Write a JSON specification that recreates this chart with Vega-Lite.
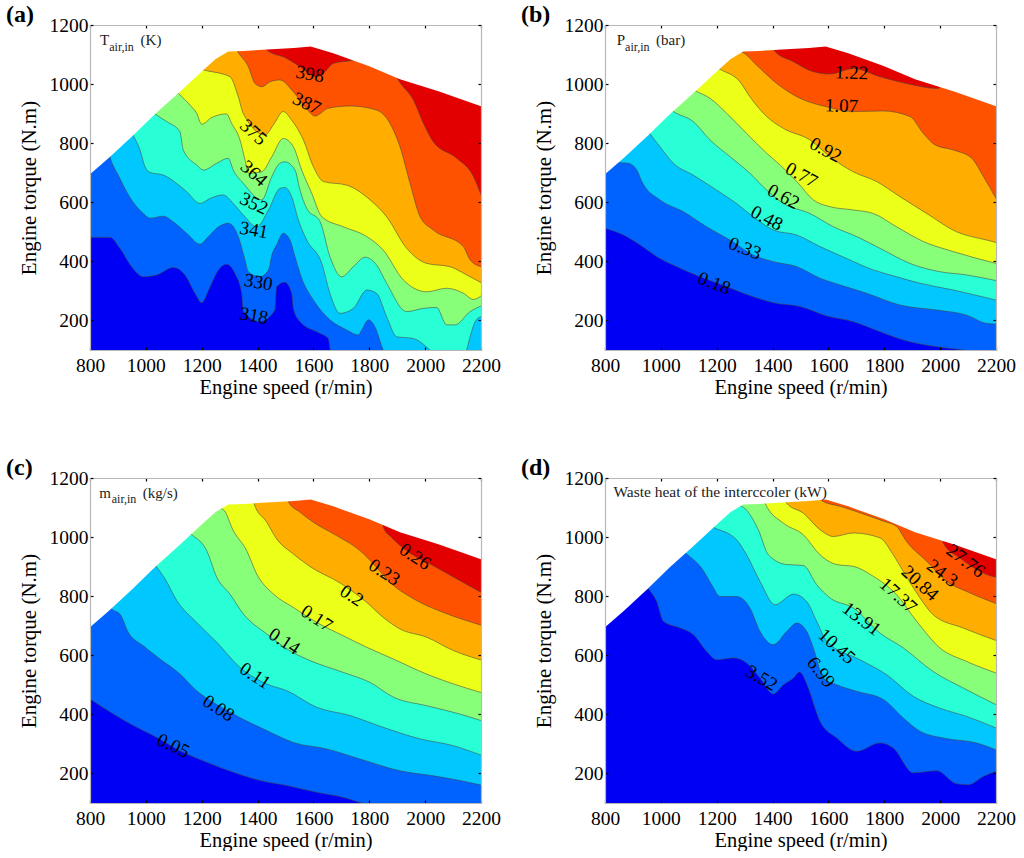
{"$schema":"https://vega.github.io/schema/vega-lite/v6.json","background":"white","padding":{"left":6,"top":3,"right":0,"bottom":0},"bounds":"flush","columns":2,"spacing":{"row":128,"column":124},
"config":{"view":{"stroke":null},"font":"Liberation Serif","title":{"font":"Liberation Serif","fontSize":24,"fontWeight":"bold","color":"black","anchor":"start","frame":"group","offset":1},
"axis":{"labelFont":"Liberation Serif","titleFont":"Liberation Serif","labelFontSize":19.5,"titleFontSize":20.5,"titleFontWeight":"normal","labelColor":"black","titleColor":"black","grid":false,"domainColor":"#b8b8b8","domainWidth":1.2,"tickColor":"black","tickSize":-3,"tickWidth":1.2,"labelOverlap":false,"labelFlush":false},
"text":{"font":"Liberation Serif"}},
"datasets":{
"env":[{"x":800,"y":695},{"x":870,"y":752},{"x":955,"y":827},{"x":1033,"y":899},{"x":1116,"y":969},{"x":1206,"y":1048},{"x":1250,"y":1085},{"x":1295,"y":1110},{"x":1350,"y":1112},{"x":1433,"y":1117},{"x":1530,"y":1122},{"x":1590,"y":1127},{"x":1671,"y":1104},{"x":1800,"y":1060},{"x":1910,"y":1016},{"x":2050,"y":975},{"x":2200,"y":925}],
"a":[{"l":9,"x":800,"y":1200},{"l":9,"x":2200,"y":1200},
{"l":8,"x":800,"y":1200},{"l":8,"x":1400,"y":1200},{"l":8,"x":1433,"y":1115},{"l":8,"x":1504,"y":1087},{"l":8,"x":1552,"y":1059},{"l":8,"x":1612,"y":1025},{"l":8,"x":1641,"y":1042},{"l":8,"x":1671,"y":1070},{"l":8,"x":1749,"y":1082},{"l":8,"x":1800,"y":1100},{"l":8,"x":1860,"y":1100},{"l":8,"x":1904,"y":1014},{"l":8,"x":1958,"y":946},{"l":8,"x":1994,"y":867},{"l":8,"x":2029,"y":805},{"l":8,"x":2113,"y":749},{"l":8,"x":2173,"y":687},{"l":8,"x":2200,"y":625},
{"l":7,"x":800,"y":1200},{"l":7,"x":1280,"y":1200},{"l":7,"x":1331,"y":1107},{"l":7,"x":1367,"y":1059},{"l":7,"x":1391,"y":1002},{"l":7,"x":1415,"y":991},{"l":7,"x":1445,"y":1008},{"l":7,"x":1480,"y":1014},{"l":7,"x":1528,"y":974},{"l":7,"x":1570,"y":923},{"l":7,"x":1606,"y":892},{"l":7,"x":1653,"y":918},{"l":7,"x":1731,"y":926},{"l":7,"x":1826,"y":912},{"l":7,"x":1874,"y":867},{"l":7,"x":1910,"y":788},{"l":7,"x":1946,"y":664},{"l":7,"x":1982,"y":551},{"l":7,"x":2029,"y":506},{"l":7,"x":2137,"y":450},{"l":7,"x":2161,"y":405},{"l":7,"x":2200,"y":382},
{"l":6,"x":800,"y":1200},{"l":6,"x":1206,"y":1048},{"l":6,"x":1301,"y":1025},{"l":6,"x":1331,"y":957},{"l":6,"x":1349,"y":900},{"l":6,"x":1427,"y":828},{"l":6,"x":1456,"y":861},{"l":6,"x":1492,"y":907},{"l":6,"x":1522,"y":878},{"l":6,"x":1564,"y":811},{"l":6,"x":1600,"y":720},{"l":6,"x":1636,"y":670},{"l":6,"x":1719,"y":658},{"l":6,"x":1803,"y":608},{"l":6,"x":1862,"y":551},{"l":6,"x":1934,"y":444},{"l":6,"x":2006,"y":393},{"l":6,"x":2089,"y":382},{"l":6,"x":2149,"y":354},{"l":6,"x":2200,"y":328},
{"l":5,"x":800,"y":1200},{"l":5,"x":1116,"y":969},{"l":5,"x":1158,"y":929},{"l":5,"x":1182,"y":901},{"l":5,"x":1200,"y":864},{"l":5,"x":1236,"y":887},{"l":5,"x":1289,"y":899},{"l":5,"x":1307,"y":867},{"l":5,"x":1337,"y":811},{"l":5,"x":1355,"y":743},{"l":5,"x":1367,"y":698},{"l":5,"x":1415,"y":703},{"l":5,"x":1451,"y":754},{"l":5,"x":1492,"y":816},{"l":5,"x":1528,"y":788},{"l":5,"x":1558,"y":709},{"l":5,"x":1594,"y":630},{"l":5,"x":1630,"y":551},{"l":5,"x":1707,"y":517},{"l":5,"x":1791,"y":484},{"l":5,"x":1850,"y":438},{"l":5,"x":1922,"y":337},{"l":5,"x":2006,"y":297},{"l":5,"x":2077,"y":309},{"l":5,"x":2137,"y":292},{"l":5,"x":2173,"y":271},{"l":5,"x":2200,"y":283},
{"l":4,"x":800,"y":1200},{"l":4,"x":1033,"y":899},{"l":4,"x":1075,"y":873},{"l":4,"x":1122,"y":839},{"l":4,"x":1134,"y":777},{"l":4,"x":1182,"y":726},{"l":4,"x":1206,"y":709},{"l":4,"x":1254,"y":732},{"l":4,"x":1295,"y":749},{"l":4,"x":1313,"y":709},{"l":4,"x":1349,"y":664},{"l":4,"x":1415,"y":608},{"l":4,"x":1451,"y":687},{"l":4,"x":1480,"y":732},{"l":4,"x":1498,"y":737},{"l":4,"x":1534,"y":709},{"l":4,"x":1552,"y":641},{"l":4,"x":1576,"y":579},{"l":4,"x":1624,"y":534},{"l":4,"x":1659,"y":416},{"l":4,"x":1701,"y":348},{"l":4,"x":1743,"y":382},{"l":4,"x":1785,"y":414},{"l":4,"x":1826,"y":388},{"l":4,"x":1862,"y":326},{"l":4,"x":1934,"y":230},{"l":4,"x":1994,"y":241},{"l":4,"x":2041,"y":244},{"l":4,"x":2077,"y":185},{"l":4,"x":2107,"y":185},{"l":4,"x":2161,"y":230},{"l":4,"x":2200,"y":249},
{"l":3,"x":800,"y":1200},{"l":3,"x":955,"y":827},{"l":3,"x":979,"y":777},{"l":3,"x":997,"y":720},{"l":3,"x":1015,"y":701},{"l":3,"x":1063,"y":692},{"l":3,"x":1110,"y":664},{"l":3,"x":1146,"y":636},{"l":3,"x":1194,"y":596},{"l":3,"x":1230,"y":613},{"l":3,"x":1277,"y":625},{"l":3,"x":1313,"y":596},{"l":3,"x":1349,"y":557},{"l":3,"x":1397,"y":517},{"l":3,"x":1439,"y":574},{"l":3,"x":1480,"y":647},{"l":3,"x":1498,"y":650},{"l":3,"x":1522,"y":619},{"l":3,"x":1546,"y":540},{"l":3,"x":1576,"y":472},{"l":3,"x":1630,"y":393},{"l":3,"x":1659,"y":292},{"l":3,"x":1695,"y":224},{"l":3,"x":1743,"y":241},{"l":3,"x":1791,"y":303},{"l":3,"x":1826,"y":292},{"l":3,"x":1862,"y":213},{"l":3,"x":1898,"y":145},{"l":3,"x":1957,"y":139},{"l":3,"x":2017,"y":100},{"l":3,"x":2041,"y":78},{"l":3,"x":2143,"y":90},{"l":3,"x":2161,"y":145},{"l":3,"x":2179,"y":196},{"l":3,"x":2200,"y":213},
{"l":2,"x":800,"y":1200},{"l":2,"x":872,"y":752},{"l":2,"x":901,"y":692},{"l":2,"x":949,"y":608},{"l":2,"x":991,"y":562},{"l":2,"x":1015,"y":546},{"l":2,"x":1063,"y":553},{"l":2,"x":1098,"y":534},{"l":2,"x":1146,"y":495},{"l":2,"x":1194,"y":458},{"l":2,"x":1224,"y":484},{"l":2,"x":1260,"y":517},{"l":2,"x":1295,"y":529},{"l":2,"x":1331,"y":484},{"l":2,"x":1355,"y":405},{"l":2,"x":1367,"y":365},{"l":2,"x":1409,"y":348},{"l":2,"x":1439,"y":371},{"l":2,"x":1451,"y":421},{"l":2,"x":1468,"y":455},{"l":2,"x":1492,"y":495},{"l":2,"x":1516,"y":472},{"l":2,"x":1534,"y":416},{"l":2,"x":1558,"y":343},{"l":2,"x":1600,"y":269},{"l":2,"x":1659,"y":202},{"l":2,"x":1719,"y":168},{"l":2,"x":1761,"y":151},{"l":2,"x":1773,"y":168},{"l":2,"x":1797,"y":202},{"l":2,"x":1820,"y":179},{"l":2,"x":1850,"y":100},{"l":2,"x":1862,"y":78},{"l":2,"x":2200,"y":70},
{"l":1,"x":800,"y":481},{"l":1,"x":872,"y":481},{"l":1,"x":907,"y":444},{"l":1,"x":949,"y":382},{"l":1,"x":991,"y":348},{"l":1,"x":1039,"y":354},{"l":1,"x":1098,"y":379},{"l":1,"x":1140,"y":354},{"l":1,"x":1176,"y":292},{"l":1,"x":1200,"y":260},{"l":1,"x":1230,"y":314},{"l":1,"x":1260,"y":371},{"l":1,"x":1289,"y":390},{"l":1,"x":1319,"y":359},{"l":1,"x":1343,"y":292},{"l":1,"x":1349,"y":230},{"l":1,"x":1409,"y":196},{"l":1,"x":1462,"y":235},{"l":1,"x":1468,"y":314},{"l":1,"x":1498,"y":329},{"l":1,"x":1522,"y":292},{"l":1,"x":1528,"y":241},{"l":1,"x":1552,"y":196},{"l":1,"x":1624,"y":156},{"l":1,"x":1653,"y":139},{"l":1,"x":1665,"y":80},{"l":1,"x":2200,"y":70}],
"b":[{"l":9,"x":800,"y":1200},{"l":9,"x":2200,"y":1200},
{"l":8,"x":800,"y":1200},{"l":8,"x":1380,"y":1200},{"l":8,"x":1409,"y":1110},{"l":8,"x":1474,"y":1076},{"l":8,"x":1546,"y":1042},{"l":8,"x":1606,"y":1034},{"l":8,"x":1689,"y":1053},{"l":8,"x":1785,"y":1025},{"l":8,"x":1880,"y":1002},{"l":8,"x":1990,"y":985},{"l":8,"x":2010,"y":1000},{"l":8,"x":2050,"y":1200},{"l":8,"x":2200,"y":1200},
{"l":7,"x":800,"y":1200},{"l":7,"x":1293,"y":1107},{"l":7,"x":1343,"y":1064},{"l":7,"x":1415,"y":1002},{"l":7,"x":1498,"y":952},{"l":7,"x":1594,"y":923},{"l":7,"x":1689,"y":907},{"l":7,"x":1797,"y":909},{"l":7,"x":1892,"y":890},{"l":7,"x":1940,"y":833},{"l":7,"x":1982,"y":794},{"l":7,"x":2047,"y":777},{"l":7,"x":2113,"y":749},{"l":7,"x":2155,"y":687},{"l":7,"x":2200,"y":613},
{"l":6,"x":800,"y":1200},{"l":6,"x":1212,"y":1050},{"l":6,"x":1283,"y":1008},{"l":6,"x":1319,"y":957},{"l":6,"x":1379,"y":890},{"l":6,"x":1439,"y":850},{"l":6,"x":1534,"y":811},{"l":6,"x":1606,"y":754},{"l":6,"x":1689,"y":703},{"l":6,"x":1773,"y":670},{"l":6,"x":1856,"y":619},{"l":6,"x":1952,"y":562},{"l":6,"x":2059,"y":500},{"l":6,"x":2167,"y":472},{"l":6,"x":2200,"y":464},
{"l":5,"x":800,"y":1200},{"l":5,"x":1122,"y":978},{"l":5,"x":1176,"y":952},{"l":5,"x":1236,"y":901},{"l":5,"x":1307,"y":833},{"l":5,"x":1379,"y":766},{"l":5,"x":1427,"y":726},{"l":5,"x":1487,"y":670},{"l":5,"x":1546,"y":608},{"l":5,"x":1606,"y":585},{"l":5,"x":1689,"y":574},{"l":5,"x":1761,"y":562},{"l":5,"x":1844,"y":517},{"l":5,"x":1940,"y":467},{"l":5,"x":2047,"y":433},{"l":5,"x":2200,"y":393},
{"l":4,"x":800,"y":1200},{"l":4,"x":1045,"y":907},{"l":4,"x":1116,"y":873},{"l":4,"x":1176,"y":811},{"l":4,"x":1248,"y":754},{"l":4,"x":1319,"y":698},{"l":4,"x":1379,"y":641},{"l":4,"x":1439,"y":596},{"l":4,"x":1534,"y":562},{"l":4,"x":1618,"y":517},{"l":4,"x":1701,"y":484},{"l":4,"x":1797,"y":438},{"l":4,"x":1892,"y":393},{"l":4,"x":1999,"y":365},{"l":4,"x":2095,"y":354},{"l":4,"x":2200,"y":335},
{"l":3,"x":800,"y":1200},{"l":3,"x":961,"y":833},{"l":3,"x":997,"y":788},{"l":3,"x":1045,"y":732},{"l":3,"x":1116,"y":692},{"l":3,"x":1200,"y":641},{"l":3,"x":1271,"y":596},{"l":3,"x":1331,"y":551},{"l":3,"x":1403,"y":506},{"l":3,"x":1487,"y":489},{"l":3,"x":1570,"y":450},{"l":3,"x":1665,"y":410},{"l":3,"x":1761,"y":371},{"l":3,"x":1844,"y":348},{"l":3,"x":1928,"y":326},{"l":3,"x":2047,"y":303},{"l":3,"x":2200,"y":269},
{"l":2,"x":800,"y":800},{"l":2,"x":848,"y":735},{"l":2,"x":884,"y":732},{"l":2,"x":914,"y":709},{"l":2,"x":932,"y":670},{"l":2,"x":997,"y":608},{"l":2,"x":1081,"y":568},{"l":2,"x":1164,"y":517},{"l":2,"x":1248,"y":472},{"l":2,"x":1331,"y":421},{"l":2,"x":1403,"y":399},{"l":2,"x":1487,"y":382},{"l":2,"x":1570,"y":343},{"l":2,"x":1642,"y":320},{"l":2,"x":1737,"y":292},{"l":2,"x":1856,"y":252},{"l":2,"x":1988,"y":235},{"l":2,"x":2095,"y":218},{"l":2,"x":2167,"y":190},{"l":2,"x":2200,"y":188},
{"l":1,"x":800,"y":512},{"l":1,"x":866,"y":489},{"l":1,"x":926,"y":455},{"l":1,"x":985,"y":416},{"l":1,"x":1057,"y":382},{"l":1,"x":1140,"y":348},{"l":1,"x":1236,"y":314},{"l":1,"x":1331,"y":280},{"l":1,"x":1403,"y":260},{"l":1,"x":1498,"y":247},{"l":1,"x":1594,"y":215},{"l":1,"x":1689,"y":196},{"l":1,"x":1785,"y":162},{"l":1,"x":1868,"y":134},{"l":1,"x":1988,"y":111},{"l":1,"x":2083,"y":100},{"l":1,"x":2200,"y":80}],
"c":[{"l":9,"x":800,"y":1200},{"l":9,"x":2200,"y":1200},
{"l":8,"x":800,"y":1200},{"l":8,"x":1840,"y":1200},{"l":8,"x":1850,"y":1033},{"l":8,"x":1882,"y":997},{"l":8,"x":1934,"y":954},{"l":8,"x":2029,"y":903},{"l":8,"x":2125,"y":852},{"l":8,"x":2200,"y":813},
{"l":7,"x":800,"y":1200},{"l":7,"x":1490,"y":1200},{"l":7,"x":1510,"y":1120},{"l":7,"x":1552,"y":1084},{"l":7,"x":1600,"y":1050},{"l":7,"x":1683,"y":1005},{"l":7,"x":1767,"y":954},{"l":7,"x":1815,"y":909},{"l":7,"x":1874,"y":847},{"l":7,"x":1970,"y":785},{"l":7,"x":2065,"y":745},{"l":7,"x":2200,"y":702},
{"l":6,"x":800,"y":1200},{"l":6,"x":1370,"y":1200},{"l":6,"x":1387,"y":1114},{"l":6,"x":1433,"y":1050},{"l":6,"x":1469,"y":993},{"l":6,"x":1528,"y":943},{"l":6,"x":1612,"y":886},{"l":6,"x":1671,"y":858},{"l":6,"x":1791,"y":779},{"l":6,"x":1850,"y":728},{"l":6,"x":1910,"y":689},{"l":6,"x":2006,"y":661},{"l":6,"x":2101,"y":616},{"l":6,"x":2200,"y":584},
{"l":5,"x":800,"y":1200},{"l":5,"x":1277,"y":1093},{"l":5,"x":1313,"y":1022},{"l":5,"x":1361,"y":954},{"l":5,"x":1397,"y":875},{"l":5,"x":1457,"y":807},{"l":5,"x":1528,"y":762},{"l":5,"x":1612,"y":711},{"l":5,"x":1707,"y":666},{"l":5,"x":1791,"y":627},{"l":5,"x":1887,"y":587},{"l":5,"x":2006,"y":536},{"l":5,"x":2101,"y":503},{"l":5,"x":2200,"y":474},
{"l":4,"x":800,"y":1200},{"l":4,"x":1160,"y":1012},{"l":4,"x":1218,"y":954},{"l":4,"x":1254,"y":864},{"l":4,"x":1301,"y":807},{"l":4,"x":1349,"y":740},{"l":4,"x":1433,"y":672},{"l":4,"x":1516,"y":615},{"l":4,"x":1588,"y":582},{"l":4,"x":1707,"y":542},{"l":4,"x":1803,"y":508},{"l":4,"x":1887,"y":458},{"l":4,"x":2006,"y":429},{"l":4,"x":2125,"y":401},{"l":4,"x":2200,"y":379},
{"l":3,"x":800,"y":1200},{"l":3,"x":1036,"y":903},{"l":3,"x":1069,"y":858},{"l":3,"x":1111,"y":785},{"l":3,"x":1182,"y":711},{"l":3,"x":1254,"y":644},{"l":3,"x":1337,"y":559},{"l":3,"x":1433,"y":503},{"l":3,"x":1505,"y":480},{"l":3,"x":1612,"y":424},{"l":3,"x":1731,"y":396},{"l":3,"x":1850,"y":356},{"l":3,"x":1982,"y":317},{"l":3,"x":2101,"y":294},{"l":3,"x":2200,"y":262},
{"l":2,"x":800,"y":900},{"l":2,"x":878,"y":756},{"l":2,"x":907,"y":740},{"l":2,"x":937,"y":678},{"l":2,"x":991,"y":632},{"l":2,"x":1051,"y":587},{"l":2,"x":1122,"y":537},{"l":2,"x":1182,"y":480},{"l":2,"x":1254,"y":433},{"l":2,"x":1313,"y":401},{"l":2,"x":1433,"y":345},{"l":2,"x":1528,"y":305},{"l":2,"x":1647,"y":283},{"l":2,"x":1767,"y":249},{"l":2,"x":1910,"y":209},{"l":2,"x":2029,"y":192},{"l":2,"x":2125,"y":176},{"l":2,"x":2200,"y":161},
{"l":1,"x":800,"y":452},{"l":1,"x":884,"y":401},{"l":1,"x":955,"y":362},{"l":1,"x":1039,"y":322},{"l":1,"x":1122,"y":277},{"l":1,"x":1218,"y":238},{"l":1,"x":1313,"y":204},{"l":1,"x":1409,"y":176},{"l":1,"x":1505,"y":159},{"l":1,"x":1612,"y":136},{"l":1,"x":1707,"y":119},{"l":1,"x":1791,"y":97},{"l":1,"x":2200,"y":75}],
"d":[{"l":9,"x":800,"y":1200},{"l":9,"x":2200,"y":1200},
{"l":8,"x":800,"y":1200},{"l":8,"x":1990,"y":1200},{"l":8,"x":2011,"y":980},{"l":8,"x":2071,"y":929},{"l":8,"x":2167,"y":873},{"l":8,"x":2200,"y":864},
{"l":7,"x":800,"y":1200},{"l":7,"x":1560,"y":1200},{"l":7,"x":1576,"y":1123},{"l":7,"x":1642,"y":1104},{"l":7,"x":1689,"y":1090},{"l":7,"x":1737,"y":1074},{"l":7,"x":1800,"y":1053},{"l":7,"x":1844,"y":1036},{"l":7,"x":1880,"y":985},{"l":7,"x":1952,"y":918},{"l":7,"x":2023,"y":850},{"l":7,"x":2095,"y":816},{"l":7,"x":2200,"y":775},
{"l":6,"x":800,"y":1200},{"l":6,"x":1435,"y":1200},{"l":6,"x":1450,"y":1115},{"l":6,"x":1510,"y":1081},{"l":6,"x":1570,"y":1025},{"l":6,"x":1618,"y":1002},{"l":6,"x":1689,"y":1014},{"l":6,"x":1785,"y":997},{"l":6,"x":1832,"y":940},{"l":6,"x":1868,"y":884},{"l":6,"x":1928,"y":794},{"l":6,"x":1975,"y":737},{"l":6,"x":2083,"y":692},{"l":6,"x":2200,"y":650},
{"l":5,"x":800,"y":1200},{"l":5,"x":1360,"y":1200},{"l":5,"x":1373,"y":1115},{"l":5,"x":1439,"y":1047},{"l":5,"x":1510,"y":1008},{"l":5,"x":1570,"y":940},{"l":5,"x":1630,"y":907},{"l":5,"x":1689,"y":901},{"l":5,"x":1761,"y":867},{"l":5,"x":1844,"y":805},{"l":5,"x":1916,"y":715},{"l":5,"x":1999,"y":625},{"l":5,"x":2095,"y":579},{"l":5,"x":2200,"y":540},
{"l":4,"x":800,"y":1200},{"l":4,"x":1289,"y":1104},{"l":4,"x":1349,"y":1025},{"l":4,"x":1385,"y":940},{"l":4,"x":1451,"y":907},{"l":4,"x":1510,"y":904},{"l":4,"x":1558,"y":839},{"l":4,"x":1606,"y":794},{"l":4,"x":1689,"y":760},{"l":4,"x":1785,"y":675},{"l":4,"x":1868,"y":625},{"l":4,"x":1975,"y":545},{"l":4,"x":2083,"y":489},{"l":4,"x":2200,"y":433},
{"l":3,"x":800,"y":1200},{"l":3,"x":1188,"y":1033},{"l":3,"x":1271,"y":991},{"l":3,"x":1307,"y":940},{"l":3,"x":1355,"y":850},{"l":3,"x":1409,"y":771},{"l":3,"x":1475,"y":807},{"l":3,"x":1522,"y":782},{"l":3,"x":1558,"y":715},{"l":3,"x":1594,"y":647},{"l":3,"x":1713,"y":585},{"l":3,"x":1809,"y":534},{"l":3,"x":1904,"y":461},{"l":3,"x":1999,"y":421},{"l":3,"x":2095,"y":393},{"l":3,"x":2200,"y":354},
{"l":2,"x":800,"y":1200},{"l":2,"x":1086,"y":948},{"l":2,"x":1146,"y":895},{"l":2,"x":1182,"y":839},{"l":2,"x":1212,"y":799},{"l":2,"x":1271,"y":799},{"l":2,"x":1319,"y":760},{"l":2,"x":1355,"y":681},{"l":2,"x":1403,"y":636},{"l":2,"x":1451,"y":681},{"l":2,"x":1487,"y":709},{"l":2,"x":1522,"y":681},{"l":2,"x":1546,"y":625},{"l":2,"x":1582,"y":523},{"l":2,"x":1630,"y":500},{"l":2,"x":1701,"y":478},{"l":2,"x":1797,"y":450},{"l":2,"x":1868,"y":388},{"l":2,"x":1928,"y":343},{"l":2,"x":2023,"y":318},{"l":2,"x":2131,"y":303},{"l":2,"x":2200,"y":280},
{"l":1,"x":800,"y":1200},{"l":1,"x":955,"y":827},{"l":1,"x":985,"y":782},{"l":1,"x":1009,"y":715},{"l":1,"x":1069,"y":692},{"l":1,"x":1116,"y":670},{"l":1,"x":1164,"y":613},{"l":1,"x":1200,"y":585},{"l":1,"x":1260,"y":591},{"l":1,"x":1307,"y":574},{"l":1,"x":1355,"y":523},{"l":1,"x":1403,"y":469},{"l":1,"x":1439,"y":500},{"l":1,"x":1475,"y":523},{"l":1,"x":1496,"y":543},{"l":1,"x":1528,"y":489},{"l":1,"x":1552,"y":421},{"l":1,"x":1570,"y":376},{"l":1,"x":1630,"y":320},{"l":1,"x":1701,"y":275},{"l":1,"x":1785,"y":303},{"l":1,"x":1832,"y":286},{"l":1,"x":1904,"y":202},{"l":1,"x":1988,"y":209},{"l":1,"x":2059,"y":165},{"l":1,"x":2101,"y":162},{"l":1,"x":2155,"y":190},{"l":1,"x":2200,"y":207}]
},
"concat":[
{"data":{"name":"a"},"title":{"text":"(a)","dx":-84,"dy":13},"width":391,"height":325,"resolve":{"axis":{"x":"independent","y":"independent"}},
"encoding":{"x":{"field":"x","type":"quantitative","scale":{"domain":[800,2200],"nice":false},"axis":null},"y":{"field":"y","type":"quantitative","scale":{"domain":[100,1200],"nice":false,"zero":false},"axis":null}},
"layer":[
{"mark":{"type":"area","interpolate":"monotone","clip":true},"encoding":{"x":{"field":"x","type":"quantitative","scale":{"domain":[800,2200],"nice":false},"axis":{"values":[800,1000,1200,1400,1600,1800,2000,2200],"format":"d","zindex":1,"title":"Engine speed (r/min)","labelPadding":9,"titlePadding":3}},"y":{"field":"y","type":"quantitative","scale":{"domain":[100,1200],"nice":false,"zero":false},"axis":{"values":[200,400,600,800,1000,1200],"format":"d","zindex":1,"title":"Engine torque (N.m)","labelPadding":5,"titlePadding":10,"titleFontSize":21}},"y2":{"datum":100},"color":{"field":"l","type":"nominal","legend":null,"scale":{"domain":[9,8,7,6,5,4,3,2,1],"range":["#e20000","#ff5200","#ffae00","#ecff18","#88ff78","#28ffd6","#00c8ff","#0062ff","#0000f5"]}}}},
{"transform":[{"filter":"datum.l<9"}],"mark":{"type":"line","interpolate":"monotone","clip":true,"stroke":"#444444","strokeWidth":0.7,"opacity":0.8},"encoding":{"detail":{"field":"l"}}},
{"data":{"name":"env"},"mark":{"type":"area","color":"white","clip":true},"encoding":{"x":{"field":"x","type":"quantitative","scale":{"domain":[800,2200],"nice":false},"axis":{"orient":"top","values":[800,1000,1200,1400,1600,1800,2000,2200],"zindex":1,"labels":false,"title":null}},"y":{"field":"y","type":"quantitative","scale":{"domain":[100,1200],"nice":false,"zero":false},"axis":{"orient":"right","values":[200,400,600,800,1000,1200],"zindex":1,"labels":false,"title":null}},"y2":{"datum":1200}}},
{"data":{"values":[{"x":1588,"y":1034,"t":"398"},{"x":1387,"y":506,"t":"341"},{"x":1403,"y":329,"t":"330"},{"x":1387,"y":216,"t":"318"}]},"mark":{"type":"text","fontSize":19,"angle":10,"color":"black"},"encoding":{"text":{"field":"t"}}},
{"data":{"values":[{"x":1576,"y":935,"t":"387"},{"x":1387,"y":596,"t":"352"}]},"mark":{"type":"text","fontSize":19,"angle":25,"color":"black"},"encoding":{"text":{"field":"t"}}},
{"data":{"values":[{"x":1385,"y":837,"t":"375"},{"x":1387,"y":698,"t":"364"}]},"mark":{"type":"text","fontSize":19,"angle":42,"color":"black"},"encoding":{"text":{"field":"t"}}},
{"data":{"values":[{"x":836,"y":1134,"t":"T"},{"x":981,"y":1134,"t":"(K)"}]},"mark":{"type":"text","fontSize":15,"align":"left","baseline":"alphabetic","color":"#222222"},"encoding":{"text":{"field":"t"}}},
{"data":{"values":[{"x":869,"y":1113,"t":"air,in"}]},"mark":{"type":"text","fontSize":12,"align":"left","baseline":"alphabetic","color":"#222222"},"encoding":{"text":{"field":"t"}}}
]},
{"data":{"name":"b"},"title":{"text":"(b)","dx":-84,"dy":13},"width":391,"height":325,"resolve":{"axis":{"x":"independent","y":"independent"}},
"encoding":{"x":{"field":"x","type":"quantitative","scale":{"domain":[800,2200],"nice":false},"axis":null},"y":{"field":"y","type":"quantitative","scale":{"domain":[100,1200],"nice":false,"zero":false},"axis":null}},
"layer":[
{"mark":{"type":"area","interpolate":"monotone","clip":true},"encoding":{"x":{"field":"x","type":"quantitative","scale":{"domain":[800,2200],"nice":false},"axis":{"values":[800,1000,1200,1400,1600,1800,2000,2200],"format":"d","zindex":1,"title":"Engine speed (r/min)","labelPadding":9,"titlePadding":3}},"y":{"field":"y","type":"quantitative","scale":{"domain":[100,1200],"nice":false,"zero":false},"axis":{"values":[200,400,600,800,1000,1200],"format":"d","zindex":1,"title":"Engine torque (N.m)","labelPadding":5,"titlePadding":10,"titleFontSize":21}},"y2":{"datum":100},"color":{"field":"l","type":"nominal","legend":null,"scale":{"domain":[9,8,7,6,5,4,3,2,1],"range":["#e20000","#ff5200","#ffae00","#ecff18","#88ff78","#28ffd6","#00c8ff","#0062ff","#0000f5"]}}}},
{"transform":[{"filter":"datum.l<9"}],"mark":{"type":"line","interpolate":"monotone","clip":true,"stroke":"#444444","strokeWidth":0.7,"opacity":0.8},"encoding":{"detail":{"field":"l"}}},
{"data":{"name":"env"},"mark":{"type":"area","color":"white","clip":true},"encoding":{"x":{"field":"x","type":"quantitative","scale":{"domain":[800,2200],"nice":false},"axis":{"orient":"top","values":[800,1000,1200,1400,1600,1800,2000,2200],"zindex":1,"labels":false,"title":null}},"y":{"field":"y","type":"quantitative","scale":{"domain":[100,1200],"nice":false,"zero":false},"axis":{"orient":"right","values":[200,400,600,800,1000,1200],"zindex":1,"labels":false,"title":null}},"y2":{"datum":1200}}},
{"data":{"values":[{"x":1683,"y":1038,"t":"1.22"},{"x":1647,"y":926,"t":"1.07"}]},"mark":{"type":"text","fontSize":19,"angle":2,"color":"black"},"encoding":{"text":{"field":"t"}}},
{"data":{"values":[{"x":1590,"y":777,"t":"0.92"},{"x":1504,"y":692,"t":"0.77"},{"x":1439,"y":619,"t":"0.62"},{"x":1379,"y":546,"t":"0.48"}]},"mark":{"type":"text","fontSize":19,"angle":28,"color":"black"},"encoding":{"text":{"field":"t"}}},
{"data":{"values":[{"x":1301,"y":444,"t":"0.33"},{"x":1191,"y":326,"t":"0.18"}]},"mark":{"type":"text","fontSize":19,"angle":21,"color":"black"},"encoding":{"text":{"field":"t"}}},
{"data":{"values":[{"x":842,"y":1134,"t":"P"},{"x":983,"y":1134,"t":"(bar)"}]},"mark":{"type":"text","fontSize":15,"align":"left","baseline":"alphabetic","color":"#222222"},"encoding":{"text":{"field":"t"}}},
{"data":{"values":[{"x":872,"y":1113,"t":"air,in"}]},"mark":{"type":"text","fontSize":12,"align":"left","baseline":"alphabetic","color":"#222222"},"encoding":{"text":{"field":"t"}}}
]},
{"data":{"name":"c"},"title":{"text":"(c)","dx":-84,"dy":13},"width":391,"height":325,"resolve":{"axis":{"x":"independent","y":"independent"}},
"encoding":{"x":{"field":"x","type":"quantitative","scale":{"domain":[800,2200],"nice":false},"axis":null},"y":{"field":"y","type":"quantitative","scale":{"domain":[100,1200],"nice":false,"zero":false},"axis":null}},
"layer":[
{"mark":{"type":"area","interpolate":"monotone","clip":true},"encoding":{"x":{"field":"x","type":"quantitative","scale":{"domain":[800,2200],"nice":false},"axis":{"values":[800,1000,1200,1400,1600,1800,2000,2200],"format":"d","zindex":1,"title":"Engine speed (r/min)","labelPadding":9,"titlePadding":3}},"y":{"field":"y","type":"quantitative","scale":{"domain":[100,1200],"nice":false,"zero":false},"axis":{"values":[200,400,600,800,1000,1200],"format":"d","zindex":1,"title":"Engine torque (N.m)","labelPadding":5,"titlePadding":10,"titleFontSize":21}},"y2":{"datum":100},"color":{"field":"l","type":"nominal","legend":null,"scale":{"domain":[9,8,7,6,5,4,3,2,1],"range":["#e20000","#ff5200","#ffae00","#ecff18","#88ff78","#28ffd6","#00c8ff","#0062ff","#0000f5"]}}}},
{"transform":[{"filter":"datum.l<9"}],"mark":{"type":"line","interpolate":"monotone","clip":true,"stroke":"#444444","strokeWidth":0.7,"opacity":0.8},"encoding":{"detail":{"field":"l"}}},
{"data":{"name":"env"},"mark":{"type":"area","color":"white","clip":true},"encoding":{"x":{"field":"x","type":"quantitative","scale":{"domain":[800,2200],"nice":false},"axis":{"orient":"top","values":[800,1000,1200,1400,1600,1800,2000,2200],"zindex":1,"labels":false,"title":null}},"y":{"field":"y","type":"quantitative","scale":{"domain":[100,1200],"nice":false,"zero":false},"axis":{"orient":"right","values":[200,400,600,800,1000,1200],"zindex":1,"labels":false,"title":null}},"y2":{"datum":1200}}},
{"data":{"values":[{"x":1964,"y":934,"t":"0.26"},{"x":1854,"y":881,"t":"0.23"},{"x":1737,"y":802,"t":"0.2"},{"x":1612,"y":725,"t":"0.17"},{"x":1496,"y":647,"t":"0.14"},{"x":1391,"y":531,"t":"0.11"},{"x":1260,"y":421,"t":"0.08"}]},"mark":{"type":"text","fontSize":19,"angle":33,"color":"black"},"encoding":{"text":{"field":"t"}}},
{"data":{"values":[{"x":1098,"y":294,"t":"0.05"}]},"mark":{"type":"text","fontSize":19,"angle":25,"color":"black"},"encoding":{"text":{"field":"t"}}},
{"data":{"values":[{"x":833,"y":1134,"t":"m"},{"x":989,"y":1134,"t":"(kg/s)"}]},"mark":{"type":"text","fontSize":15,"align":"left","baseline":"alphabetic","color":"#222222"},"encoding":{"text":{"field":"t"}}},
{"data":{"values":[{"x":878,"y":1114,"t":"air,in"}]},"mark":{"type":"text","fontSize":12,"align":"left","baseline":"alphabetic","color":"#222222"},"encoding":{"text":{"field":"t"}}}
]},
{"data":{"name":"d"},"title":{"text":"(d)","dx":-84,"dy":13},"width":391,"height":325,"resolve":{"axis":{"x":"independent","y":"independent"}},
"encoding":{"x":{"field":"x","type":"quantitative","scale":{"domain":[800,2200],"nice":false},"axis":null},"y":{"field":"y","type":"quantitative","scale":{"domain":[100,1200],"nice":false,"zero":false},"axis":null}},
"layer":[
{"mark":{"type":"area","interpolate":"monotone","clip":true},"encoding":{"x":{"field":"x","type":"quantitative","scale":{"domain":[800,2200],"nice":false},"axis":{"values":[800,1000,1200,1400,1600,1800,2000,2200],"format":"d","zindex":1,"title":"Engine speed (r/min)","labelPadding":9,"titlePadding":3}},"y":{"field":"y","type":"quantitative","scale":{"domain":[100,1200],"nice":false,"zero":false},"axis":{"values":[200,400,600,800,1000,1200],"format":"d","zindex":1,"title":"Engine torque (N.m)","labelPadding":5,"titlePadding":10,"titleFontSize":21}},"y2":{"datum":100},"color":{"field":"l","type":"nominal","legend":null,"scale":{"domain":[9,8,7,6,5,4,3,2,1],"range":["#e20000","#ff5200","#ffae00","#ecff18","#88ff78","#28ffd6","#00c8ff","#0062ff","#0000f5"]}}}},
{"transform":[{"filter":"datum.l<9"}],"mark":{"type":"line","interpolate":"monotone","clip":true,"stroke":"#444444","strokeWidth":0.7,"opacity":0.8},"encoding":{"detail":{"field":"l"}}},
{"data":{"name":"env"},"mark":{"type":"area","color":"white","clip":true},"encoding":{"x":{"field":"x","type":"quantitative","scale":{"domain":[800,2200],"nice":false},"axis":{"orient":"top","values":[800,1000,1200,1400,1600,1800,2000,2200],"zindex":1,"labels":false,"title":null}},"y":{"field":"y","type":"quantitative","scale":{"domain":[100,1200],"nice":false,"zero":false},"axis":{"orient":"right","values":[200,400,600,800,1000,1200],"zindex":1,"labels":false,"title":null}},"y2":{"datum":1200}}},
{"data":{"values":[{"x":2091,"y":920,"t":"27.76"},{"x":2008,"y":878,"t":"24.3"},{"x":1719,"y":723,"t":"13.91"}]},"mark":{"type":"text","fontSize":19,"angle":37,"color":"black"},"encoding":{"text":{"field":"t"}}},
{"data":{"values":[{"x":1928,"y":844,"t":"20.84"},{"x":1850,"y":802,"t":"17.37"},{"x":1630,"y":630,"t":"10.45"}]},"mark":{"type":"text","fontSize":19,"angle":42,"color":"black"},"encoding":{"text":{"field":"t"}}},
{"data":{"values":[{"x":1573,"y":543,"t":"6.99"}]},"mark":{"type":"text","fontSize":19,"angle":52,"color":"black"},"encoding":{"text":{"field":"t"}}},
{"data":{"values":[{"x":1361,"y":523,"t":"3.52"}]},"mark":{"type":"text","fontSize":19,"angle":30,"color":"black"},"encoding":{"text":{"field":"t"}}},
{"data":{"values":[{"x":830,"y":1137,"t":"Waste heat of the interccoler (kW)"}]},"mark":{"type":"text","fontSize":15.5,"align":"left","baseline":"alphabetic","color":"#222222"},"encoding":{"text":{"field":"t"}}}
]}
]}
